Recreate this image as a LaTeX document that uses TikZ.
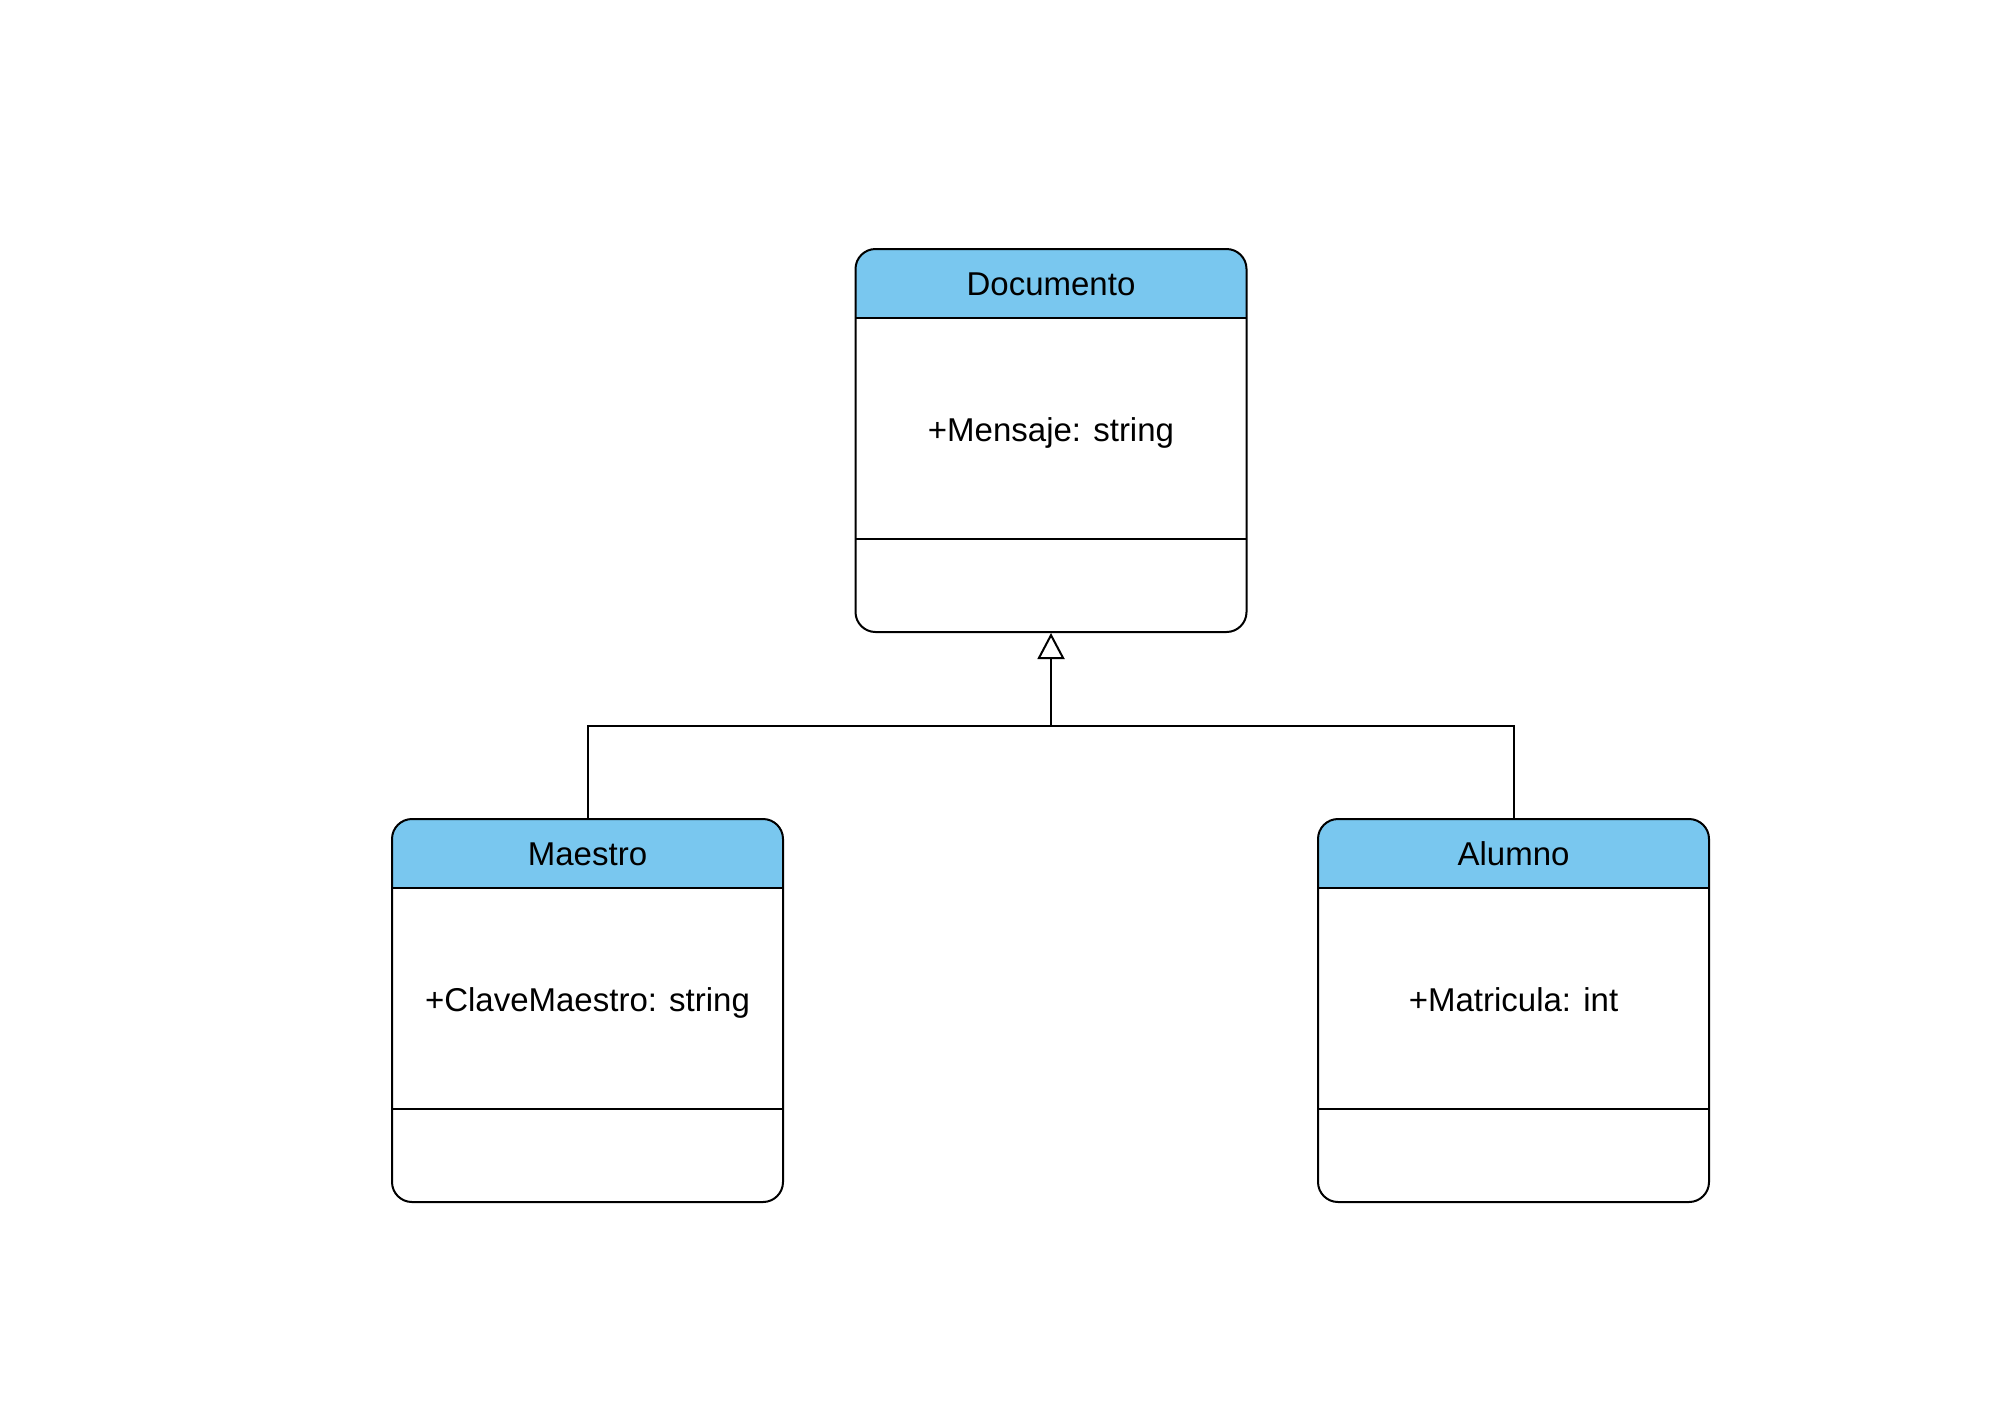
\documentclass[tikz,border=0pt]{standalone}
\usepackage{fontspec}
\setmainfont{Liberation Sans}
\usetikzlibrary{arrows.meta}
\definecolor{hdr}{RGB}{121,199,239}
\tikzset{
  boxline/.style={line width=1pt, draw=black},
  classbox/.style={boxline, rectangle, rounded corners=10pt, inner sep=0pt,
    minimum width=195.5pt, minimum height=191.5pt},
  txt/.style={font=\fontsize{16.5}{20}\selectfont, inner sep=0pt, anchor=base},
  gen/.style={line width=1pt, -{Triangle[open, length=13pt, width=13.5pt, line width=1pt]}},
  link/.style={line width=1pt}
}
% #1 name, #2 centre x, #3 top y, #4 title, #5 attribute (pixels)
\newcommand\umlclass[5]{%
  \fill[hdr, rounded corners=10pt] ({#2-195.5},{#3}) rectangle ({#2+195.5},{#3+69});
  \fill[hdr] ({#2-195.5},{#3+45}) rectangle ({#2+195.5},{#3+69});
  \node[classbox] (#1) at (#2,{#3+191.5}) {};
  \draw[boxline] ({#2-195.5},{#3+69}) -- ({#2+195.5},{#3+69});
  \draw[boxline] ({#2-195.5},{#3+290}) -- ({#2+195.5},{#3+290});
  \node[txt] (#1-title) at (#2,{#3+46}) {#4};
  \node[txt] (#1-attr) at (#2,{#3+192}) {#5};
}
\begin{document}
\begin{tikzpicture}[x=0.5pt, y=-0.5pt]
\useasboundingbox (0,0) rectangle (2000,1414);
\umlclass{doc}{1051}{249}{Documento}{+Mensaje: string}
\umlclass{mae}{587.5}{819}{Maestro}{+ClaveMaestro: string}
\umlclass{alu}{1513.5}{819}{Alumno}{+Matricula: int}
\coordinate (join) at (1051,726);
\draw[link] (mae.north) |- (join) -| (alu.north);
\draw[gen] (join) -- (doc.south);
\end{tikzpicture}
\end{document}
